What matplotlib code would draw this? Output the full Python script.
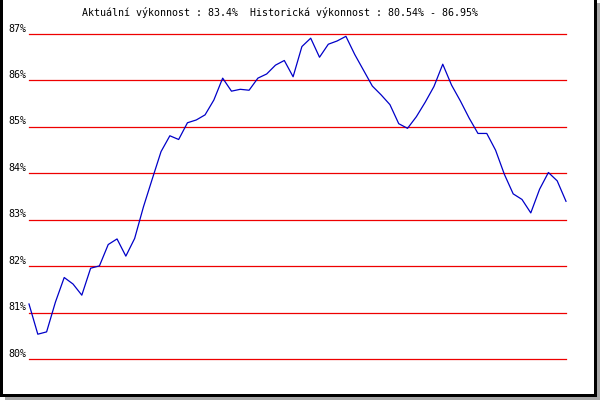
import matplotlib
matplotlib.use("Agg")
import matplotlib.pyplot as plt
from matplotlib.patches import Rectangle
from matplotlib.transforms import offset_copy

title_text = "Aktuální výkonnost : 83.4%  Historická výkonnost : 80.54% - 86.95%"
y_ticks = [80, 81, 82, 83, 84, 85, 86, 87]
y_tick_labels = ["80%", "81%", "82%", "83%", "84%", "85%", "86%", "87%"]
values = [81.19, 80.54, 80.59, 81.23, 81.76, 81.62, 81.38, 81.96, 82.01, 82.47,
          82.59, 82.22, 82.60, 83.28, 83.88, 84.47, 84.81, 84.73, 85.09, 85.15,
          85.26, 85.58, 86.05, 85.77, 85.81, 85.79, 86.05, 86.14, 86.33, 86.43,
          86.08, 86.73, 86.91, 86.50, 86.78, 86.85, 86.95, 86.56, 86.22, 85.88,
          85.69, 85.48, 85.07, 84.97, 85.22, 85.53, 85.87, 86.35, 85.90, 85.56,
          85.19, 84.86, 84.86, 84.50, 83.98, 83.56, 83.44, 83.15, 83.66, 84.02,
          83.84, 83.40]

W, H = 600, 400
fig = plt.figure(figsize=(6, 4), dpi=100)
fig.patch.set_facecolor("white")

left_px, right_px = 29, 566
top_px, bottom_px = 34, 359.3
ax = fig.add_axes([left_px / W, 1 - bottom_px / H, (right_px - left_px) / W,
                   (bottom_px - top_px) / H])
ax.set_xlim(0, len(values) - 1)
ax.set_ylim(y_ticks[0], y_ticks[-1])
ax.axis("off")

mono = "DejaVu Sans Mono"
for v, lab in zip(y_ticks, y_tick_labels):
    ax.axhline(v, color="#ee0000", lw=0.9, clip_on=False, zorder=1)
    tr = offset_copy(ax.get_yaxis_transform(), fig=fig, x=-3, y=2.5, units="dots")
    ax.text(0, v, lab, transform=tr, ha="right", va="baseline",
            family=mono, fontsize=7.2, color="black")

ax.plot(range(len(values)), values, color="#0000c8", lw=0.9, clip_on=False, zorder=2)

fig.text(82 / W, 1 - 13 / H, title_text, ha="left", va="center",
         family=mono, fontsize=7.2, color="black")

def rect(x0, y0, x1, y1, color):
    fig.add_artist(Rectangle((x0 / W, 1 - y1 / H), (x1 - x0) / W, (y1 - y0) / H,
                             transform=fig.transFigure, facecolor=color,
                             edgecolor="none", zorder=10))

# shadow
rect(597, 3, 600, 400, "#a8a8a8")
rect(5, 396.7, 600, 400, "#a8a8a8")
# black frame
rect(0, 0, 3, 396.7, "black")
rect(594, 0, 597, 396.7, "black")
rect(0, 393.5, 597, 396.7, "black")

fig.savefig("out.png", dpi=100)
